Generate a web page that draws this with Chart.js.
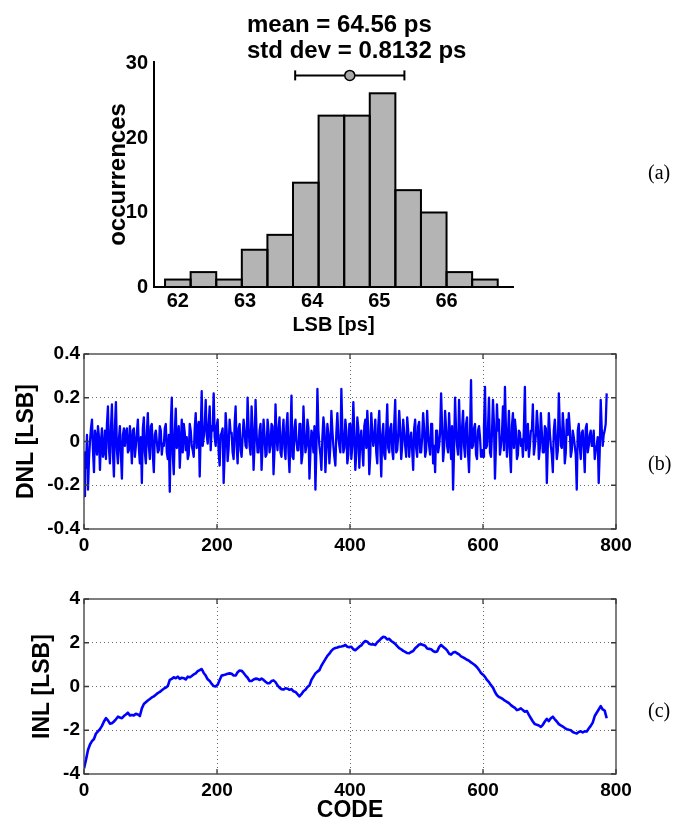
<!DOCTYPE html>
<html>
<head>
<meta charset="utf-8">
<script src="https://cdn.jsdelivr.net/npm/chart.js@4.4.1/dist/chart.umd.min.js"></script>
<style>
html,body{margin:0;padding:0;background:#fff;}
#wrap{position:relative;width:676px;height:821px;overflow:hidden;background:#fff;}
#wrap canvas{position:absolute;left:0;top:0;}
.lab{position:absolute;font-family:"Liberation Serif","Times New Roman",serif;font-size:20px;line-height:20px;color:#000;}
</style>
</head>
<body>
<div id="wrap">
  <canvas id="c1" width="676" height="821"></canvas>
  <canvas id="c2" width="676" height="821"></canvas>
  <canvas id="c3" width="676" height="821"></canvas>
  <div class="lab" style="left:648px;top:162px;">(a)</div>
  <div class="lab" style="left:648px;top:453px;">(b)</div>
  <div class="lab" style="left:648px;top:700px;">(c)</div>
</div>
<script>
// ---------- (a) histogram of LSB ----------
const binCenters = [62.000, 62.381, 62.762, 63.143, 63.524, 63.905, 64.286, 64.667, 65.048, 65.429, 65.810, 66.191, 66.572];
const binCounts  = [1, 2, 1, 5, 7, 14, 23, 23, 26, 13, 10, 2, 1];
const lsbTicks   = [62, 63, 64, 65, 66];
const countTicks = [0, 10, 20, 30];
const meanLsb = 64.56;
const stdLsb = 0.8132;
const errBarLevel = 28.4;

// ---------- (b) DNL ----------
// dnlPeaks: values at codes 0, 3, 6, ... ; dnlMid: values half-way (codes 1.5, 4.5, ...)
const dnlStep = 3;
const dnlPeaks = [
 -0.25,-0.12,-0.22,0.0,0.1,-0.14,0.02,0.07,-0.13,0.06,
 -0.05,-0.08,0.16,-0.1,0.17,-0.16,0.18,-0.1,0.07,-0.17,
 0.06,0.04,-0.05,0.07,-0.1,0.06,-0.02,0.1,-0.1,-0.19,
 0.11,-0.1,0.13,-0.08,0.08,-0.14,0.05,-0.05,0.07,-0.06,
 -0.02,0.08,-0.08,-0.23,0.2,-0.15,0.15,0.0,-0.12,0.1,
 0.08,-0.04,-0.08,0.08,-0.02,-0.07,0.13,0.06,-0.16,0.23,
 0.02,0.19,-0.01,0.16,0.07,0.22,-0.02,0.1,-0.11,
 0.04,-0.19,0.13,-0.09,0.10,0.04,-0.08,0.16,-0.10,0.08,
 -0.07,0.10,-0.02,0.20,-0.02,0.16,-0.13,0.19,-0.05,0.05,
 -0.13,0.10,-0.07,0.10,-0.05,0.08,-0.15,0.17,-0.04,0.11,
 -0.07,0.10,-0.08,0.13,-0.14,0.21,-0.08,0.10,-0.04,0.08,
 -0.10,0.16,-0.05,0.10,-0.17,0.05,-0.05,-0.22,0.24,-0.02,
 -0.13,0.11,-0.14,0.08,-0.10,0.14,-0.02,-0.11,0.13,-0.02,
 0.24,-0.05,0.10,-0.10,
 0.08,-0.08,0.18,-0.13,0.11,-0.12,0.05,-0.11,0.10,0.14,
 -0.15,0.13,-0.02,0.10,-0.10,0.14,-0.16,0.08,-0.08,0.17,
 -0.05,0.08,-0.08,0.19,-0.04,0.14,-0.08,0.10,-0.02,0.11,
 -0.07,0.04,-0.13,0.10,-0.07,0.09,-0.05,0.13,-0.07,0.14,
 -0.02,0.08,-0.10,-0.14,0.05,-0.02,0.22,-0.09,0.14,-0.02,
 0.13,-0.08,-0.22,0.20,-0.02,0.19,-0.08,0.14,-0.07,0.11,
 -0.14,0.28,-0.02,0.08,-0.08,0.07,-0.07,
 -0.07,0.25,-0.02,0.20,-0.07,0.19,-0.17,0.17,0.10,-0.02,
 0.16,0.25,-0.07,0.14,-0.14,0.13,0.10,-0.08,0.05,-0.02,
 -0.07,0.25,-0.02,-0.07,0.05,0.17,-0.02,0.14,-0.08,0.13,
 -0.05,0.07,-0.19,0.13,-0.02,-0.14,0.10,-0.08,0.22,-0.02,
 0.13,-0.10,0.10,0.13,-0.07,0.05,-0.02,-0.22,0.08,-0.08,
 0.05,-0.14,0.08,-0.02,0.05,-0.02,-0.08,-0.02,-0.19,0.19,
 -0.02,0.05,0.22
];
const dnlMid = [
 -0.05,0.03,-0.08,0.06,-0.04,0.05,-0.06,0.02,0.0,-0.07,
 0.05,0.08,-0.03,0.06,-0.05,0.07,-0.04,0.01,-0.06,0.03,
 -0.02,0.06,-0.04,0.0,0.05,-0.07,0.04,-0.03,0.02,0.06,
 -0.05,0.04,-0.02,0.07,-0.06,0.03,0.0,-0.04,0.05,-0.01,
 0.06,-0.05,0.03,0.08,-0.06,0.04,-0.03,0.07,-0.02,-0.05,
 0.04,0.02,-0.06,0.05,-0.04,0.06,-0.03,0.09,0.04,-0.02,
 0.07,0.03,0.08,-0.04,0.05,0.02,0.07,-0.05,0.03,0.06,
 -0.06,0.05,-0.03,0.04,-0.05,0.08,-0.02,0.06,-0.04,0.02,
 0.05,-0.03,0.07,-0.06,0.06,-0.01,0.04,-0.05,0.08,-0.02,
 0.03,-0.06,0.05,-0.02,0.07,-0.04,0.02,0.06,-0.05,0.04,
 -0.03,0.07,-0.05,0.03,-0.07,0.06,0.0,-0.04,0.08,-0.06,
 0.04,-0.02,0.06,-0.05,0.03,0.07,-0.03,0.05,-0.06,0.02,
 0.06,-0.04,0.03,-0.02,0.05,-0.07,0.04,0.02,-0.05,0.06,
 -0.03,0.05,-0.06,0.08,-0.02,0.04,-0.05,0.06,0.01,-0.04,
 0.07,-0.03,0.05,-0.06,0.04,0.02,-0.05,0.07,-0.02,0.03,
 -0.06,0.05,-0.03,0.06,-0.04,0.08,-0.05,0.03,0.06,-0.02,
 0.04,-0.07,0.05,0.01,-0.04,0.06,-0.03,0.07,-0.05,0.02,
 0.06,-0.04,0.03,-0.06,0.08,-0.02,0.05,-0.05,0.04,0.07,
 -0.03,0.06,-0.05,0.02,0.07,-0.04,0.05,-0.06,0.03,0.06,
 -0.02,0.08,-0.05,0.04,-0.03,0.06,-0.06,0.05,0.02,-0.04,
 0.07,-0.03,0.06,-0.05,0.04,0.08,-0.02,0.05,-0.06,0.03,
 -0.04,0.06,0.02,-0.05,0.07,-0.03,0.05,-0.06,0.04,0.01,
 0.06,-0.04,0.08,-0.02,0.05,-0.06,0.03,0.07,-0.03,0.04,
 -0.05,0.06,-0.02,0.04,-0.06,0.05,0.02,-0.04,0.07,-0.03,
 0.05,-0.05,0.03,0.06,-0.04,0.02,-0.06,0.05,-0.02,0.04,
 -0.03,0.06,-0.05,0.03,-0.02,0.05,-0.04,0.02,-0.05,0.06,
 0.03,0.08
];

// ---------- (c) INL, one value every inlStep codes ----------
const inlStep = 3;
const inlValues = [
 -3.75,-3.35,-2.9,-2.65,-2.5,-2.4,-2.15,-2.05,-1.95,-1.8,
 -1.6,-1.45,-1.55,-1.7,-1.68,-1.6,-1.5,-1.38,-1.42,-1.45,
 -1.35,-1.28,-1.2,-1.32,-1.3,-1.32,-1.25,-1.28,-1.35,-1.0,
 -0.8,-0.72,-0.64,-0.57,-0.5,-0.45,-0.38,-0.3,-0.25,-0.17,
 -0.1,-0.05,0.02,0.3,0.35,0.42,0.38,0.45,0.35,0.4,
 0.38,0.32,0.45,0.42,0.48,0.55,0.6,0.7,0.75,0.8,
 0.62,0.5,0.33,0.25,0.12,0.02,0.0,0.08,0.3,0.5,
 0.52,0.55,0.58,0.6,0.58,0.5,0.5,0.65,0.73,0.72,
 0.62,0.5,0.4,0.25,0.25,0.32,0.36,0.35,0.3,0.36,
 0.3,0.22,0.15,0.15,0.25,0.28,0.2,0.05,-0.05,-0.12,
 -0.14,-0.08,-0.1,-0.15,-0.12,-0.22,-0.25,-0.35,-0.45,-0.35,
 -0.22,-0.15,-0.02,0.05,0.3,0.45,0.6,0.68,0.75,0.95,
 1.1,1.25,1.4,1.5,1.63,1.72,1.76,1.78,1.82,1.83,
 1.85,1.9,1.82,1.8,1.82,1.7,1.66,1.74,1.82,1.88,
 2.0,2.08,2.05,1.95,1.92,1.93,1.9,2.02,2.1,2.2,
 2.27,2.25,2.15,2.18,2.08,2.02,1.95,1.85,1.75,1.7,
 1.63,1.58,1.53,1.52,1.58,1.62,1.75,1.83,1.92,1.93,
 1.9,1.86,1.74,1.72,1.7,1.62,1.58,1.6,1.8,1.9,
 1.82,1.74,1.65,1.5,1.46,1.55,1.58,1.52,1.47,1.38,
 1.33,1.28,1.22,1.18,1.1,1.04,0.97,0.88,0.76,0.62,
 0.54,0.44,0.3,0.2,0.06,-0.05,-0.25,-0.4,-0.48,-0.52,
 -0.58,-0.65,-0.7,-0.76,-0.85,-0.92,-0.98,-1.08,-1.05,-1.0,
 -1.08,-1.15,-1.12,-1.3,-1.45,-1.6,-1.72,-1.75,-1.78,-1.85,
 -1.75,-1.6,-1.48,-1.58,-1.45,-1.38,-1.5,-1.6,-1.72,-1.78,
 -1.83,-1.9,-1.95,-1.98,-2.0,-2.08,-2.12,-2.15,-2.08,-2.05,
 -2.1,-2.05,-2.06,-1.92,-1.8,-1.65,-1.35,-1.2,-1.05,-0.9,
 -1.05,-1.1,-1.45
];

const codeTicks = [0, 200, 400, 600, 800];
const dnlTicks = [-0.4, -0.2, 0, 0.2, 0.4];
const inlTicks = [-4, -2, 0, 2, 4];

// ---------------------------------------------------------------
const FAMILY = '"Liberation Sans", Arial, Helvetica, sans-serif';
Chart.defaults.font.family = FAMILY;
Chart.defaults.color = '#000';

const fixTicks = arr => s => { s.ticks = arr.map(v => ({ value: v })); };

// strokes each bar's outline centred on its edges
const barOutline = {
  id: 'barOutline',
  afterDatasetDraw(chart, args, opts) {
    if (!opts || !opts.enabled || args.meta.type !== 'bar') return;
    const ctx = chart.ctx;
    ctx.save();
    ctx.strokeStyle = opts.color;
    ctx.lineWidth = opts.width;
    ctx.lineJoin = 'miter';
    args.meta.data.forEach(bar => {
      const p = bar.getProps(['x', 'y', 'width', 'base'], true);
      ctx.strokeRect(p.x - p.width / 2, p.y, p.width, p.base - p.y);
    });
    ctx.restore();
  }
};

// stats text above the histogram
const statText = {
  id: 'statText',
  afterDraw(chart, args, opts) {
    if (!opts || !opts.lines) return;
    const ctx = chart.ctx;
    ctx.save();
    ctx.font = opts.font;
    ctx.fillStyle = '#000';
    ctx.textAlign = 'left';
    ctx.textBaseline = 'alphabetic';
    opts.lines.forEach((t, i) => ctx.fillText(t, opts.x, opts.y + i * opts.gap));
    ctx.restore();
  }
};

// full box with small inward ticks (MATLAB style)
const boxFrame = {
  id: 'boxFrame',
  afterDraw(chart, args, opts) {
    if (!opts || !opts.enabled) return;
    const { ctx, chartArea: a, scales } = chart;
    ctx.save();
    ctx.strokeStyle = opts.color;
    ctx.lineWidth = opts.width;
    ctx.strokeRect(a.left, a.top, a.right - a.left, a.bottom - a.top);
    const L = opts.tick;
    ctx.beginPath();
    scales.x.ticks.forEach(t => {
      const px = scales.x.getPixelForValue(t.value);
      ctx.moveTo(px, a.bottom); ctx.lineTo(px, a.bottom - L);
      ctx.moveTo(px, a.top); ctx.lineTo(px, a.top + L);
    });
    scales.y.ticks.forEach(t => {
      const py = scales.y.getPixelForValue(t.value);
      ctx.moveTo(a.left, py); ctx.lineTo(a.left + L, py);
      ctx.moveTo(a.right, py); ctx.lineTo(a.right - L, py);
    });
    ctx.stroke();
    ctx.restore();
  }
};

const baseOpts = {
  responsive: false,
  animation: false,
  devicePixelRatio: 1,
  events: [],
};

const tickFont = size => ({ family: FAMILY, size: size, weight: 'bold' });

// ---------- chart (a) ----------
new Chart(document.getElementById('c1'), {
  type: 'bar',
  plugins: [barOutline, statText],
  data: {
    datasets: [
      {
        type: 'bar',
        data: binCenters.map((c, i) => ({ x: c, y: binCounts[i] })),
        backgroundColor: '#b4b4b4',
        borderWidth: 0,
        barPercentage: 1,
        categoryPercentage: 1,
        inflateAmount: 0,
        order: 3
      },
      {
        type: 'line',
        data: [{ x: meanLsb - stdLsb, y: errBarLevel }, { x: meanLsb + stdLsb, y: errBarLevel }],
        borderColor: '#000',
        borderWidth: 2,
        pointStyle: 'line',
        rotation: 90,
        pointRadius: 5,
        pointBorderWidth: 2,
        pointBorderColor: '#000',
        fill: false,
        order: 2
      },
      {
        type: 'scatter',
        data: [{ x: meanLsb, y: errBarLevel }],
        pointRadius: 5,
        pointBackgroundColor: '#a9a9a9',
        pointBorderColor: '#000',
        pointBorderWidth: 1.5,
        order: 1
      }
    ]
  },
  options: Object.assign({}, baseOpts, {
    layout: { padding: { top: 62, right: 163, bottom: 821 - 338, left: 0 } },
    plugins: {
      legend: { display: false },
      tooltip: { enabled: false },
      barOutline: { enabled: true, color: '#000', width: 2 },
      statText: {
        lines: ['mean = ' + meanLsb + ' ps', 'std dev = ' + stdLsb + ' ps'],
        x: 247, y: 32, gap: 25.5,
        font: 'bold 24px ' + FAMILY
      }
    },
    scales: {
      x: {
        type: 'linear',
        offset: false,
        min: 61.645, max: 66.99,
        afterBuildTicks: fixTicks(lsbTicks),
        afterFit: s => { s.height = 51; },
        grid: { display: false, drawTicks: false, offset: false },
        border: { display: true, color: '#000', width: 2 },
        ticks: { font: tickFont(20), color: '#000', padding: 2, maxRotation: 0, autoSkip: false,
                 callback: v => String(v) },
        title: { display: true, text: 'LSB [ps]', color: '#000',
                 font: { family: FAMILY, size: 20, weight: 'bold', lineHeight: 1.2 },
                 padding: { top: 0, bottom: 1 } }
      },
      y: {
        type: 'linear',
        min: 0, max: 30.2,
        afterBuildTicks: fixTicks(countTicks),
        afterFit: s => { s.width = 154; },
        grid: { display: false, drawTicks: false },
        border: { display: true, color: '#000', width: 2 },
        ticks: { font: tickFont(20), color: '#000', padding: 6, autoSkip: false,
                 callback: v => String(v) },
        title: { display: true, text: 'occurrences', color: '#000',
                 font: { family: FAMILY, size: 24, weight: 'bold', lineHeight: 1.2 },
                 padding: { top: 104, bottom: 0 } }
      }
    }
  })
});

// shared builder for the two line panels
function linePanel(canvasId, points, lineWidth, yTicks, yTitle, yFmt, area, opt) {
  return new Chart(document.getElementById(canvasId), {
    type: 'line',
    plugins: [boxFrame],
    data: {
      datasets: [{
        data: points,
        borderColor: '#0000ff',
        borderWidth: lineWidth,
        borderJoinStyle: 'round',
        pointRadius: 0,
        tension: 0,
        fill: false
      }]
    },
    options: Object.assign({}, baseOpts, {
      layout: { padding: { top: area.top, right: 676 - area.right, bottom: area.padBottom, left: 0 } },
      plugins: {
        legend: { display: false },
        tooltip: { enabled: false },
        boxFrame: { enabled: true, color: '#3a3a3a', width: 1.3, tick: 5 }
      },
      scales: {
        x: {
          type: 'linear', min: 0, max: 800,
          afterBuildTicks: fixTicks(codeTicks),
          afterFit: s => { s.height = area.xHeight; },
          grid: { drawTicks: false, lineWidth: 1,
                  color: c => (c.tick && (c.tick.value === 0 || c.tick.value === 800)) ? 'rgba(0,0,0,0)' : '#6a6a6a' },
          border: { display: false, dash: [1, 3] },
          ticks: { font: tickFont(19), color: '#000', padding: 5, maxRotation: 0, autoSkip: false,
                   callback: v => String(v) },
          title: opt.xTitle ? { display: true, text: opt.xTitle, color: '#000',
                   font: { family: FAMILY, size: 23, weight: 'bold', lineHeight: 1.2 },
                   padding: { top: 0, bottom: -3 } } : { display: false }
        },
        y: {
          type: 'linear', min: yTicks[0], max: yTicks[yTicks.length - 1],
          afterBuildTicks: fixTicks(yTicks),
          afterFit: s => { s.width = area.left; },
          grid: { drawTicks: false, lineWidth: 1,
                  color: c => (c.tick && (c.tick.value === yTicks[0] || c.tick.value === yTicks[yTicks.length - 1])) ? 'rgba(0,0,0,0)' : '#6a6a6a' },
          border: { display: false, dash: [1, 3] },
          ticks: { font: tickFont(19), color: '#000', padding: 4, autoSkip: false, callback: yFmt },
          title: { display: true, text: yTitle, color: '#000',
                   font: { family: FAMILY, size: 23, weight: 'bold', lineHeight: 1.2 },
                   padding: { top: opt.yTitlePad, bottom: 0 } }
        }
      }
    })
  });
}

// merge peak and mid-way DNL readings in code order
const dnlPoints = [];
dnlPeaks.forEach((v, i) => {
  dnlPoints.push({ x: i * dnlStep, y: v });
  if (i < dnlMid.length) dnlPoints.push({ x: i * dnlStep + dnlStep / 2, y: dnlMid[i] });
});
const inlPoints = inlValues.map((v, i) => ({ x: i * inlStep, y: v }));

linePanel('c2', dnlPoints, 2.3, dnlTicks, 'DNL [LSB]',
  v => (v === 0 ? '0' : Number(v).toFixed(1)),
  { left: 84, right: 616, top: 354, xHeight: 40, padBottom: 821 - 569 },
  { yTitlePad: 13 });

linePanel('c3', inlPoints, 2.6, inlTicks, 'INL [LSB]',
  v => String(v),
  { left: 84, right: 616, top: 599, xHeight: 47, padBottom: 0 },
  { yTitlePad: 29, xTitle: 'CODE' });
</script>
</body>
</html>
